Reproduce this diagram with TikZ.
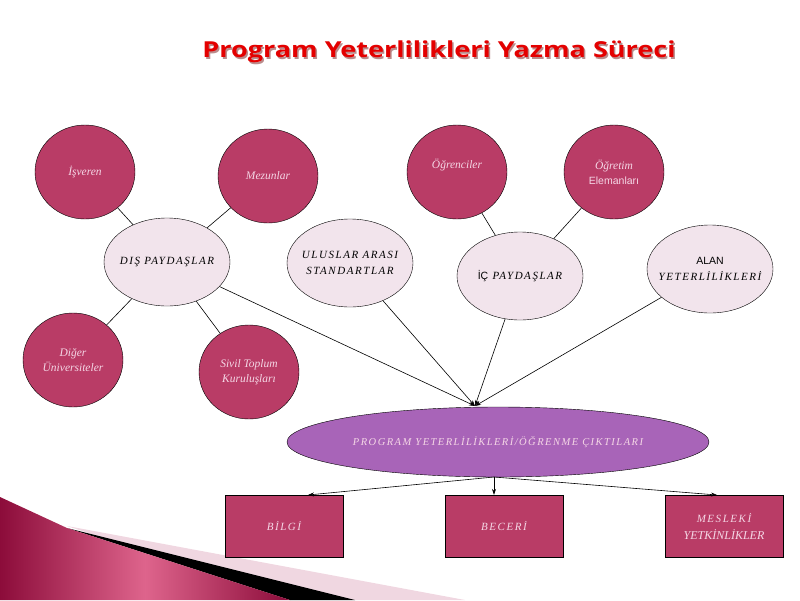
\documentclass[tikz,border=0pt]{standalone}
\usepackage{fontspec}
\setmainfont{Liberation Serif}
\newfontfamily\titlefont{Open Sans}
\newfontfamily\arialfont{Liberation Sans}
\newfontfamily\capsfont[LetterSpace=14]{Liberation Serif}
\newfontfamily\capsplain{Liberation Serif}
\usetikzlibrary{shapes.geometric,arrows.meta,calc}
\definecolor{rose}{RGB}{185,60,102}
\definecolor{palefill}{RGB}{242,228,236}
\definecolor{lilac}{RGB}{168,100,184}
\definecolor{txtpink}{RGB}{245,215,230}
\definecolor{titlered}{RGB}{228,0,0}
\definecolor{wedgedark}{RGB}{140,12,58}
\definecolor{wedgelight}{RGB}{222,100,140}
\definecolor{bandpink}{RGB}{240,215,225}
\newcommand{\nbx}[1]{\makebox[40pt][c]{#1}}
\tikzset{
  circ/.style={ellipse,draw=black,fill=rose,minimum width=100pt,minimum height=94pt,
    inner sep=0pt,text=txtpink,font=\itshape\fontsize{11.5}{15}\selectfont,align=center},
  paleell/.style={ellipse,draw=black,fill=palefill,minimum width=126pt,minimum height=88pt,
    inner sep=0pt,font=\capsfont\itshape\fontsize{11}{16}\selectfont,align=center},
  outbox/.style={rectangle,draw=black,fill=rose,minimum width=118pt,minimum height=62pt,
    inner sep=0pt,text=txtpink,font=\capsfont\itshape\fontsize{11}{17}\selectfont,align=center},
  link/.style={draw=black,line width=0.6pt},
  arr/.style={draw=black,line width=0.6pt,-{Stealth[length=6pt,width=4pt]}},
  titletext/.style={font=\titlefont\bfseries\fontsize{22}{26}\selectfont}
}
\begin{document}
\begin{tikzpicture}[x=1pt,y=-1pt]
\useasboundingbox (0,0) rectangle (800,600);
% decoration
\fill[bandpink] (67,526) -- (465,600) -- (290,600) -- cycle;
\fill[black] (67,528) -- (355,600) -- (290,600) -- cycle;
\shade[left color=wedgedark,right color=wedgedark,middle color=wedgelight]
  (0,497) -- (67,528) -- (290,600) -- (0,600) -- cycle;
% title
\node[titletext,text=black!60!red,opacity=0.45] at (440.5,53.5) {\scalebox{1.23}[1]{Program Yeterlilikleri Yazma Süreci}};
\node[titletext,text=titlered] (title) at (439,52) {\scalebox{1.23}[1]{Program Yeterlilikleri Yazma Süreci}};
% nodes
\node[circ] (isv) at (85,172) {İşveren};
\node[circ] (mez) at (268,176) {Mezunlar};
\node[circ] (dig) at (73,360) {Diğer\\Üniversiteler};
\node[circ] (siv) at (249,372) {Sivil Toplum\\Kuruluşları};
\node[circ] (ogr) at (457,172) {Öğrenciler\\[1pt]};
\node[circ] (oge) at (614,172) {Öğretim\\{\upshape\arialfont\fontsize{10.5}{12}\selectfont Elemanları}};
\node[paleell] (dis) at (167,262) {\nbx{DIŞ PAYDAŞLAR}};
\node[paleell] (uls) at (350,263) {\nbx{ULUSLAR ARASI}\\\nbx{STANDARTLAR}};
\node[paleell] (ic) at (520,276) {\nbx{{\upshape\arialfont\fontsize{10.5}{12}\selectfont İÇ} PAYDAŞLAR}};
\node[paleell] (alan) at (710,269) {\nbx{{\upshape\arialfont\fontsize{10.5}{12}\selectfont ALAN}}\\\nbx{YETERLİLİKLERİ}};
\node[ellipse,draw=black,fill=lilac,minimum width=422pt,minimum height=70pt,inner sep=0pt,
  text=txtpink,font=\capsfont\itshape\fontsize{10.5}{12}\selectfont] (prog) at (498,442)
  {\makebox[100pt][c]{PROGRAM YETERLİLİKLERİ/ÖĞRENME ÇIKTILARI}};
\node[outbox] (bil) at (284,526) {BİLGİ};
\node[outbox] (bec) at (504,526) {BECERİ};
\node[outbox] (mes) at (724,526) {MESLEKİ\\{\capsplain\itshape\fontsize{12}{12}\selectfont YETKİNLİKLER}};
% connectors
\coordinate (conv) at (475,406);
\coordinate (src) at (494,477);
\coordinate (bilt) at (308,495);
\coordinate (mest) at (717,495);
\draw[link] (isv) -- (dis);
\draw[link] (mez) -- (dis);
\draw[link] (dig) -- (dis);
\draw[link] (siv) -- (dis);
\draw[link] (ogr) -- (ic);
\draw[link] (oge) -- (ic);
\draw[arr] (dis) -- (conv);
\draw[arr] (uls) -- (conv);
\draw[arr] (ic) -- (conv);
\draw[arr] (alan) -- (conv);
\draw[arr] (src) -- (bilt);
\draw[arr] (src) -- (src |- bec.north);
\draw[arr] (src) -- (mest);
\end{tikzpicture}
\end{document}
